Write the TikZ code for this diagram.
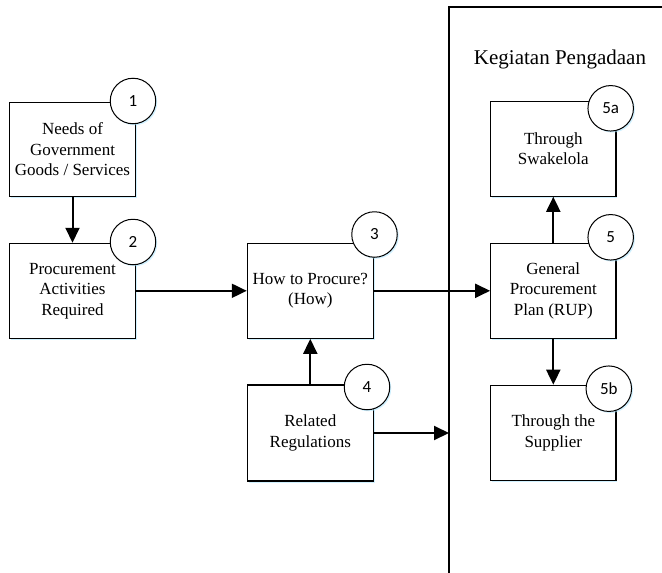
\documentclass[tikz,border=0pt]{standalone}
\usepackage{fontspec}
\setmainfont{Liberation Serif}
\newfontfamily\numfont{Carlito}
\usetikzlibrary{arrows.meta,shadows}
\begin{document}
\begin{tikzpicture}[x=1pt,y=-1pt,
  glow/.style={drop shadow={shadow xshift=1.5pt, shadow yshift=-1.5pt, fill=blue!30!cyan!30, opacity=0.6}},
  box/.style={draw=black, line width=1.1pt, fill=white, align=center, inner sep=0pt, glow,
    font=\fontsize{17}{20.5}\selectfont},
  numc/.style={draw=black, line width=1pt, fill=white, circle, minimum size=45.5pt, inner sep=0pt, glow,
    font=\numfont\fontsize{17}{17}\selectfont},
  conn/.style={line width=2pt, -{Triangle[length=15pt,width=14pt]}},
  frame/.style={draw=black, line width=1.1pt}]
\useasboundingbox (0,0) rectangle (662,573);
\clip (0,0) rectangle (662,573);
\fill[white] (0,0) rectangle (662,573);
% frame of Kegiatan Pengadaan
\draw[frame] (449,590) -- (449,7) -- (680,7);
\node[font=\fontsize{21}{24}\selectfont] (title) at (560,59) {Kegiatan Pengadaan};
% boxes
\node[box, minimum width=126.4pt, minimum height=94.4pt] (b1) at (72.5,149.5) {Needs of\\Government\\Goods / Services};
\node[box, minimum width=126.4pt, minimum height=95pt] (b2) at (72.5,290.8) {Procurement\\Activities\\Required};
\node[box, minimum width=126pt, minimum height=95pt] (b3) at (310.3,290.8) {How to Procure?\\(How)};
\node[box, minimum width=126pt, minimum height=96pt] (b4) at (310.3,433) {Related\\Regulations};
\node[box, minimum width=125.3pt, minimum height=95pt] (b5a) at (553.3,148.7) {Through\\Swakelola};
\node[box, minimum width=125.3pt, minimum height=95pt] (b5) at (553.3,290.8) {General\\Procurement\\Plan (RUP)};
\node[box, minimum width=125.3pt, minimum height=95.5pt] (b5b) at (553.3,433) {Through the\\Supplier};
% number circles
\node[numc] (c1) at (133,101) {1};
\node[numc] (c2) at (133,242) {2};
\node[numc] (c3) at (374.5,234.5) {3};
\node[numc] (c4) at (367,387) {4};
\node[numc] (c5a) at (610.7,108.3) {5a};
\node[numc] (c5) at (610.7,237.3) {5};
\node[numc] (c5b) at (608.8,388.7) {5b};
% connectors
\coordinate (fr4) at (449,433);
\draw[conn] (b1.south) -- (b2.north);
\draw[conn] (b2.east) -- (b3.west);
\draw[conn] (b4.north) -- (b3.south);
\draw[conn] (b3.east) -- (b5.west);
\draw[conn] (b4.east) -- (fr4);
\draw[conn] (b5.north) -- (b5a.south);
\draw[conn] (b5.south) -- (b5b.north);
\end{tikzpicture}
\end{document}
